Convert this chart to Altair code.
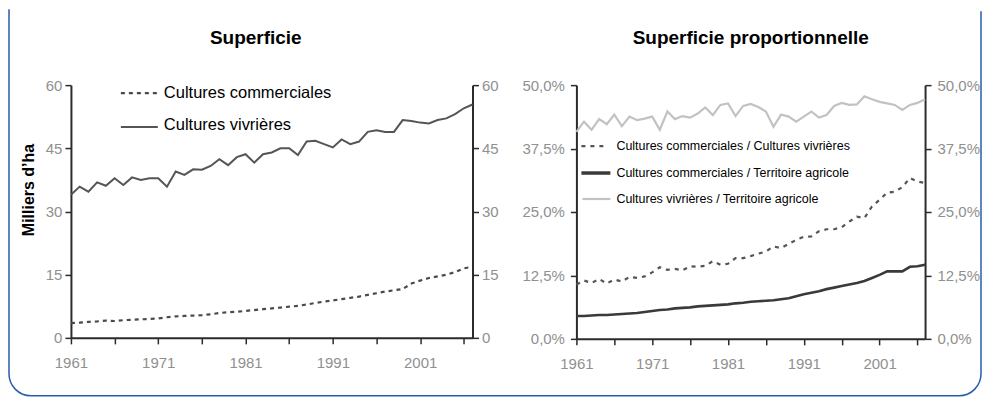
import altair as alt
import pandas as pd

annees = list(range(1961, 2008))

commerciales = [3.5, 3.6, 3.8, 3.9, 4.1, 4.0, 4.2, 4.3, 4.4, 4.5,
                4.6, 4.9, 5.1, 5.2, 5.3, 5.4, 5.6, 5.9, 6.1, 6.2,
                6.4, 6.6, 6.8, 7.0, 7.2, 7.4, 7.6, 7.9, 8.3, 8.6,
                8.9, 9.2, 9.5, 9.8, 10.2, 10.6, 11.0, 11.3, 11.6, 12.9,
                13.6, 14.2, 14.6, 15.0, 15.6, 16.5, 16.9]

vivrieres = [34.0, 35.9, 34.7, 36.9, 36.1, 37.9, 36.3, 38.1, 37.5, 37.9,
             37.9, 35.9, 39.5, 38.7, 40.0, 39.9, 40.8, 42.4, 41.0, 42.9,
             43.6, 41.6, 43.6, 44.0, 45.0, 45.0, 43.4, 46.6, 46.8, 46.0,
             45.2, 47.1, 46.0, 46.6, 48.9, 49.3, 48.9, 48.9, 51.7, 51.5,
             51.1, 50.9, 51.7, 52.1, 53.1, 54.5, 55.4]

ratio_com_viv = [10.7, 11.5, 11.0, 11.8, 10.9, 11.7, 11.3, 12.2, 12.0, 12.3,
                 13.1, 14.1, 13.6, 13.8, 13.5, 14.3, 14.2, 14.4, 15.3, 14.6,
                 14.8, 15.9, 15.9, 16.3, 16.8, 17.2, 18.2, 17.9, 18.7, 19.5,
                 20.1, 20.2, 21.2, 21.6, 21.6, 22.0, 23.1, 24.1, 23.8, 26.1,
                 27.4, 28.8, 29.0, 29.9, 31.7, 31.0, 30.7]

ratio_com_terr = [4.5, 4.5, 4.6, 4.7, 4.7, 4.8, 4.9, 5.0, 5.1, 5.3,
                  5.5, 5.7, 5.8, 6.0, 6.1, 6.2, 6.4, 6.5, 6.6, 6.7,
                  6.8, 7.0, 7.1, 7.3, 7.4, 7.5, 7.6, 7.8, 8.0, 8.4,
                  8.8, 9.1, 9.4, 9.8, 10.1, 10.4, 10.7, 11.0, 11.4, 12.0,
                  12.6, 13.3, 13.3, 13.3, 14.2, 14.3, 14.6]

ratio_viv_terr = [40.8, 42.8, 41.2, 43.3, 42.3, 44.2, 41.9, 43.8, 43.1, 43.4,
                  43.8, 41.2, 44.8, 43.3, 43.9, 43.6, 44.4, 45.6, 44.1, 46.1,
                  46.4, 43.9, 45.9, 46.3, 45.7, 44.8, 41.8, 44.2, 43.8, 42.8,
                  43.8, 44.8, 43.6, 44.1, 45.9, 46.5, 46.1, 46.2, 47.8, 47.2,
                  46.7, 46.4, 46.1, 45.1, 46.1, 46.5, 47.2]

x_ticks = [1961, 1966, 1971, 1976, 1981, 1986, 1991, 1996, 2001, 2006]
y_ticks_left = [0, 15, 30, 45, 60]
y_ticks_right = [0, 12.5, 25, 37.5, 50]

titre_gauche = "Superficie"
titre_droite = "Superficie proportionnelle"
titre_axe = "Milliers d’ha"
legende_gauche = ["Cultures commerciales", "Cultures vivrières"]
legende_droite = ["Cultures commerciales / Cultures vivrières",
                  "Cultures commerciales / Territoire agricole",
                  "Cultures vivrières / Territoire agricole"]

df = pd.DataFrame({
    "annee": annees,
    "com": commerciales,
    "viv": vivrieres,
    "r_cv": ratio_com_viv,
    "r_ct": ratio_com_terr,
    "r_vt": ratio_viv_terr,
})
one = pd.DataFrame({"k": [0]})

FONT = "Liberation Sans, Arial, Helvetica, sans-serif"
LAB = "#909090"
AX = "#2b2b2b"

LW, LH = 402, 253
RW, RH = 349, 254


def x_enc():
    return alt.X("annee:Q",
                 scale=alt.Scale(domain=[1961, 2007], nice=False, zero=False),
                 axis=alt.Axis(values=x_ticks, format="d",
                               labelExpr="(datum.value - 1961) % 10 == 0 ? '' + datum.value : ''",
                               title=None, grid=False, tickSize=6, tickWidth=1.5,
                               domainWidth=2, domainColor=AX, tickColor=AX,
                               labelColor=LAB, labelFontSize=15, labelFont=FONT,
                               labelPadding=12, labelFlush=False, labelOverlap=False))


def y_axis(orient, values, pct, pad):
    kw = dict(orient=orient, values=values, title=None, grid=False, tickSize=6,
              tickWidth=1.5, domainWidth=2, domainColor=AX, tickColor=AX,
              labelColor=LAB, labelFontSize=15, labelFont=FONT, labelPadding=pad,
              labelFlush=False, labelOverlap=False)
    if pct:
        kw["labelExpr"] = "replace(format(datum.value, '.1f'), '.', ',') + '%'"
    return alt.Axis(**kw)


base = alt.Chart(df)

# ---------------- Left panel ----------------
l_com = base.mark_line(color="#4a4a4a", strokeWidth=2.2, strokeDash=[4, 4]).encode(
    x=x_enc(),
    y=alt.Y("com:Q", scale=alt.Scale(domain=[0, 60], nice=False),
            axis=y_axis("left", y_ticks_left, False, 3)))
l_viv = base.mark_line(color="#555555", strokeWidth=2).encode(
    x=x_enc(),
    y=alt.Y("viv:Q", scale=alt.Scale(domain=[0, 60], nice=False),
            axis=y_axis("right", y_ticks_left, False, 3)))

frame = alt.Chart(one).mark_rect(
    fill="transparent", stroke="#2a5caa", strokeWidth=1.5,
    cornerRadiusBottomLeft=22, cornerRadiusBottomRight=22,
    strokeDash=[0, 975, 4000, 0]
).encode(x=alt.value(-62), x2=alt.value(911), y=alt.value(-76), y2=alt.value(311))

def txt(s, x, y, size, bold=False, align="left", angle=0, color="#000000"):
    props = dict(text=s, align=align, baseline="middle", fontSize=size,
                 font=FONT, color=color)
    if bold:
        props["fontWeight"] = "bold"
    if angle:
        props["angle"] = angle
    return alt.Chart(one).mark_text(**props).encode(x=alt.value(x), y=alt.value(y))

def seg(x1, x2, y, color, width, dash=None):
    props = dict(color=color, strokeWidth=width)
    if dash:
        props["strokeDash"] = dash
    return alt.Chart(one).mark_rule(**props).encode(
        x=alt.value(x1), x2=alt.value(x2), y=alt.value(y))

left_deco = [
    frame,
    txt(titre_gauche, 185, -47, 19, bold=True, align="center"),
    txt(titre_axe, -42, 105, 16, bold=True, align="center", angle=270),
    seg(50, 87, 8, "#4a4a4a", 2.2, [4, 4]),
    txt(legende_gauche[0], 93, 8, 16.5),
    seg(50, 87, 42, "#555555", 2),
    txt(legende_gauche[1], 93, 40, 16.5),
]

left = alt.layer(l_com, l_viv, *left_deco).resolve_scale(y="independent").properties(
    width=LW, height=LH)

# ---------------- Right panel ----------------
r_cv = base.mark_line(color="#555555", strokeWidth=2.2, strokeDash=[4, 5]).encode(
    x=x_enc(),
    y=alt.Y("r_cv:Q", scale=alt.Scale(domain=[0, 50], nice=False),
            axis=y_axis("left", y_ticks_right, True, 6)))
r_ct = base.mark_line(color="#3a3a3a", strokeWidth=2.6).encode(
    x=x_enc(),
    y=alt.Y("r_ct:Q", scale=alt.Scale(domain=[0, 50], nice=False), axis=None))
r_vt = base.mark_line(color="#c2c2c2", strokeWidth=2.2).encode(
    x=x_enc(),
    y=alt.Y("r_vt:Q", scale=alt.Scale(domain=[0, 50], nice=False),
            axis=y_axis("right", y_ticks_right, True, 6)))

right_deco = [
    txt(titre_droite, 174.5, -47, 19, bold=True, align="center"),
    seg(5, 31, 61, "#555555", 2.2, [4, 5]),
    txt(legende_droite[0], 40, 61, 12.5),
    seg(5, 34, 88, "#3a3a3a", 3.5),
    txt(legende_droite[1], 40, 88, 12.5),
    seg(6, 34, 114, "#c2c2c2", 2.2),
    txt(legende_droite[2], 40, 114, 12.5),
]

right = alt.layer(r_cv, r_ct, r_vt, *right_deco).resolve_scale(y="independent").properties(
    width=RW, height=RH)

chart = alt.hconcat(left, right, spacing=104, bounds="flush").properties(
    padding={"left": 0, "top": 0, "right": 0, "bottom": 0},
    background="white",
).configure_view(strokeWidth=0)

chart.save("out.html", embed_options={"renderer": "svg", "actions": False})
